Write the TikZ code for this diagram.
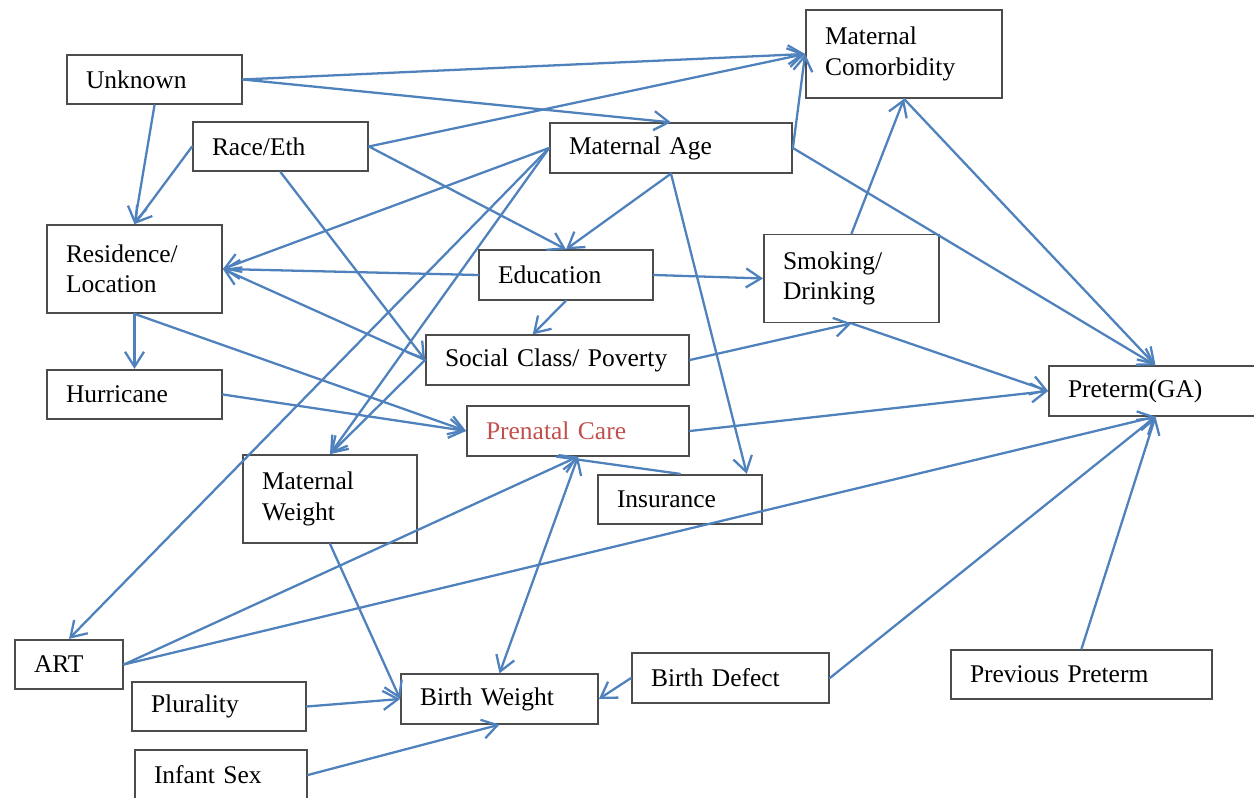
\documentclass[tikz,border=0pt]{standalone}
\usepackage{fontspec}
\setmainfont{Liberation Serif}
\usetikzlibrary{arrows.meta}
\definecolor{arrowblue}{RGB}{79,129,189}
\definecolor{carered}{RGB}{192,80,77}
\begin{document}
\begin{tikzpicture}[>={Straight Barb[length=3mm,width=3.8mm]},
		box/.style={draw=black!70,line width=1pt,rectangle,align=left,inner xsep=0.38cm,inner ysep=0pt,minimum height=0.99cm,font=\fontsize{14.5}{17.4}\selectfont},
		tall/.style={minimum height=1.76cm},
		arr/.style={draw=arrowblue,line width=1.3pt,line cap=round,->}]
			\useasboundingbox (0,0) rectangle (25.08,15.96);
			\node[box, text width=2.74cm] (unk) at (3.09,14.37) {Unknown};
			\node[box, text width=2.74cm] (race) at (5.61,13.03) {Race/Eth};
			\node[box, tall, text width=3.16cm] (como) at (18.08,14.88) {Maternal\\Comorbidity};
			\node[box, text width=4.08cm] (age) at (13.42,13.00) {Maternal Age};
			\node[box, tall, text width=2.74cm] (res) at (2.69,10.58) {Residence/\\Location};
			\node[box, text width=2.72cm] (edu) at (11.32,10.46) {Education};
			\node[box, tall, text width=2.74cm] (smk) at (17.03,10.39) {Smoking/\\Drinking};
			\node[box, text width=4.50cm] (soc) at (11.15,8.76) {Social Class/ Poverty};
			\node[box, text width=2.74cm] (hur) at (2.69,8.07) {Hurricane};
			\node[box, text width=3.68cm, text=carered] (pnc) at (11.56,7.34) {Prenatal Care};
			\node[box, text width=3.50cm] (pre) at (23.11,8.14) {Preterm(GA)};
			\node[box, tall, text width=2.72cm] (mw) at (6.60,5.98) {Maternal\\Weight};
			\node[box, text width=2.52cm] (ins) at (13.60,5.97) {Insurance};
			\node[box, text width=1.40cm] (art) at (1.38,2.67) {ART};
			\node[box, text width=2.72cm] (plu) at (4.38,1.83) {Plurality};
			\node[box, text width=3.18cm] (bw) at (9.99,1.98) {Birth Weight};
			\node[box, text width=3.18cm] (bd) at (14.61,2.40) {Birth Defect};
			\node[box, text width=4.46cm] (pp) at (21.63,2.47) {Previous Preterm};
			\node[box, text width=2.68cm] (sex) at (4.42,0.46) {Infant Sex};
			\draw[arr] (unk.east) -- (como.west);
			\draw[arr] (unk.east) -- (age.north);
			\draw[arr] (unk.south) -- (res.north);
			\draw[arr] (race.west) -- (res.north);
			\draw[arr] (race.east) -- (como.west);
			\draw[arr] (race.east) -- (edu.north);
			\draw[arr] (race.south) -- (soc.west);
			\draw[arr] (age.east) -- (como.west);
			\draw[arr] (age.east) -- (pre.north);
			\draw[arr] (como.south) -- (pre.north);
			\draw[arr] (smk.north) -- (como.south);
			\draw[arr] (age.west) -- (res.east);
			\draw[arr] (age.west) -- (art.north);
			\draw[arr] (age.west) -- (mw.north);
			\draw[arr] (age.south) -- (edu.north);
			\draw[arr] (age.south) -- (ins.21);
			\draw[arr] (edu.west) -- (res.east);
			\draw[arr] (edu.east) -- (smk.west);
			\draw[arr] (edu.south) -- (soc.134);
			\draw[arr] (soc.west) -- (res.east);
			\draw[arr] (soc.west) -- (mw.north);
			\draw[arr] (soc.east) -- (smk.south);
			\draw[arr] (smk.south) -- (pre.west);
			\draw[arr] (res.south) -- (hur.north);
			\draw[arr] (res.south) -- (pnc.west);
			\draw[arr] (hur.east) -- (pnc.west);
			\draw[arr] (pnc.east) -- (pre.west);
			\draw[arr,-] (pnc.230) -- (ins.north);
			\draw[arr,<->] (pnc.south) -- (bw.north);
			\draw[arr] (mw.south) -- (bw.west);
			\draw[arr] (plu.east) -- (bw.west);
			\draw[arr] (sex.east) -- (bw.south);
			\draw[arr] (bd.west) -- (bw.east);
			\draw[arr] (bd.east) -- (pre.south);
			\draw[arr] (pp.north) -- (pre.south);
			\draw[arr] (art.east) -- (pnc.south);
			\draw[arr] (art.east) -- (pre.south);
\end{tikzpicture}
\end{document}
